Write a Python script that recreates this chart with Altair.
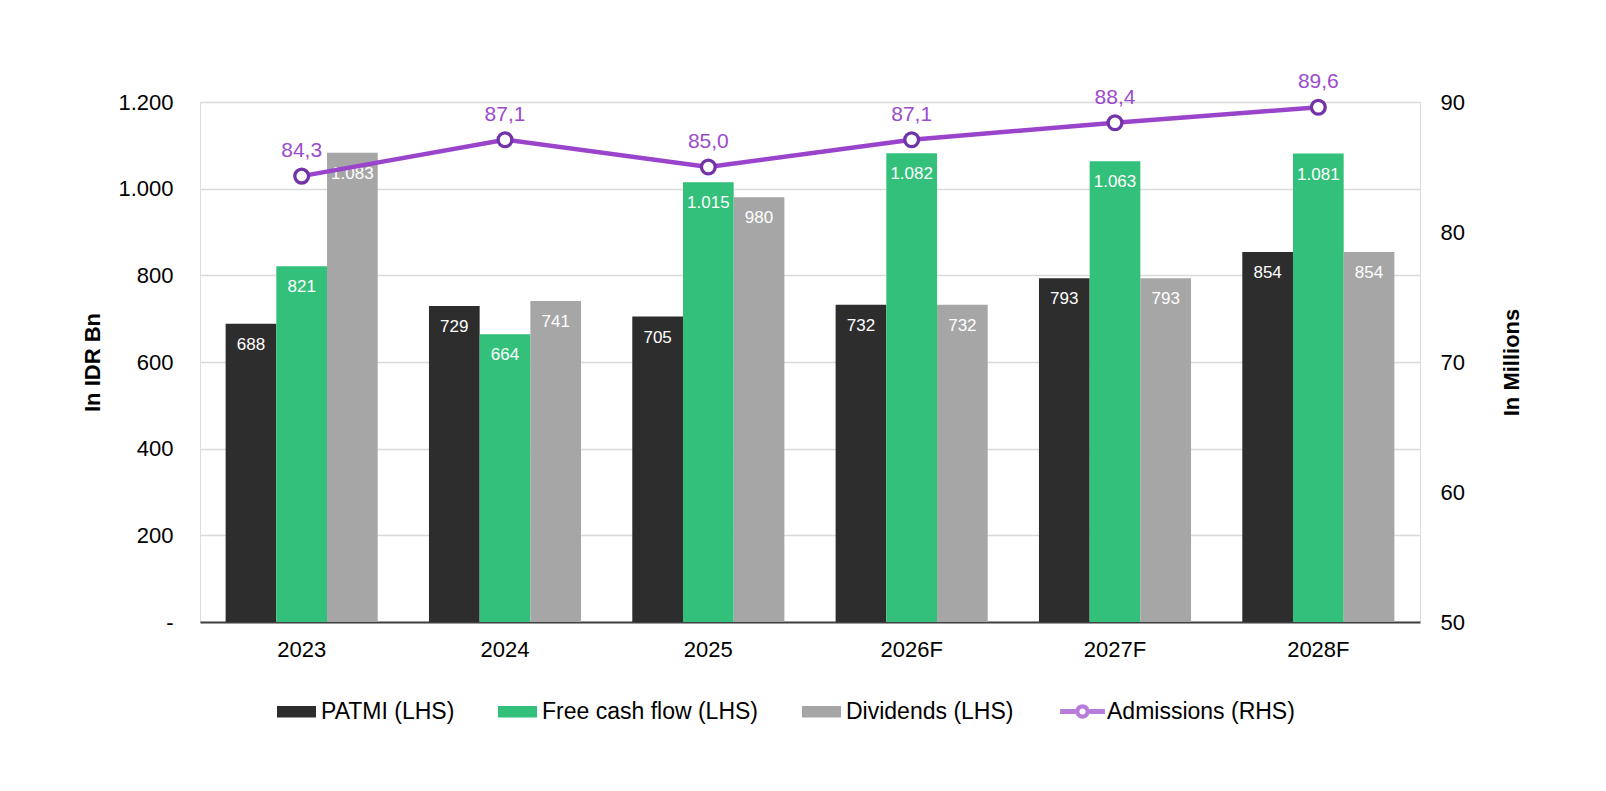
import altair as alt
import pandas as pd

years = ["2023", "2024", "2025", "2026F", "2027F", "2028F"]
patmi = [688, 729, 705, 732, 793, 854]
fcf = [821, 664, 1015, 1082, 1063, 1081]
dividends = [1083, 741, 980, 732, 793, 854]
admissions = [84.3, 87.1, 85.0, 87.1, 88.4, 89.6]

bar_series = ["PATMI (LHS)", "Free cash flow (LHS)", "Dividends (LHS)"]
bar_colors = ["#2d2d2d", "#33c07a", "#a6a6a6"]
line_series = "Admissions (RHS)"
line_color = "#9a44cc"
marker_color = "#7232a8"

FONT = "Liberation Sans"

RECT_PATH = "M-1,-0.29H1V0.29H-1Z"
LINE_PATH = (
    "M-1.15,-0.13H-0.36V0.13H-1.15Z M0.36,-0.13H1.15V0.13H0.36Z "
    "M0.37,0A0.37,0.37 0 1,1 -0.37,0A0.37,0.37 0 1,1 0.37,0Z "
    "M0.16,0A0.16,0.16 0 1,0 -0.16,0A0.16,0.16 0 1,0 0.16,0Z"
)


def thousands(v):
    return f"{v:,}".replace(",", ".")


rows = []
for name, vals in zip(bar_series, [patmi, fcf, dividends]):
    for y, v in zip(years, vals):
        rows.append({"year": y, "series": name, "value": v, "label": thousands(v)})
bars_df = pd.DataFrame(rows)

adm_df = pd.DataFrame({
    "year": years,
    "adm": admissions,
    "label": [f"{a:.1f}".replace(".", ",") for a in admissions],
    "s": [line_series] * len(years),
})

x_enc = alt.X(
    "year:N",
    sort=years,
    scale=alt.Scale(paddingInner=0.252, paddingOuter=0.126),
    axis=alt.Axis(
        title=None, labelAngle=0, ticks=False, tickSize=0, labelPadding=17,
        labelFontSize=22, labelColor="#000000", domainColor="#404040",
        domainWidth=2, grid=False, labelFont=FONT,
    ),
)

y_left = alt.Y(
    "value:Q",
    scale=alt.Scale(domain=[0, 1200], nice=False),
    axis=alt.Axis(
        title="In IDR Bn", values=[0, 200, 400, 600, 800, 1000, 1200],
        labelExpr="datum.value === 0 ? '-' : replace(format(datum.value, ','), ',', '.')",
        labelFontSize=22, labelColor="#000000", labelPadding=27, ticks=False, tickSize=0,
        domain=False, grid=True, gridColor="#d9d9d9", gridWidth=1.5,
        titleFontSize=22, titleFontWeight="bold", titleColor="#000000",
        titlePadding=13, labelFont=FONT, titleFont=FONT,
    ),
)

legend_common = dict(
    title=None, orient="none", direction="horizontal", symbolSize=1521,
    symbolStrokeWidth=0, labelFontSize=23, labelColor="#000000", labelFont=FONT,
    columnPadding=43, labelOffset=5, labelLimit=500, padding=0, legendY=590,
)

color_enc = alt.Color(
    "series:N",
    scale=alt.Scale(domain=bar_series, range=bar_colors),
    sort=bar_series,
    legend=alt.Legend(legendX=77, symbolType=RECT_PATH, **legend_common),
)

bars = alt.Chart(bars_df).mark_bar().encode(
    x=x_enc,
    xOffset=alt.XOffset("series:N", sort=bar_series, scale=alt.Scale(paddingInner=0, paddingOuter=0)),
    y=y_left,
    color=color_enc,
)

bar_text = alt.Chart(bars_df).mark_text(
    baseline="alphabetic", dy=26, color="#ffffff", fontSize=17, font=FONT
).encode(
    x=alt.X("year:N", sort=years),
    xOffset=alt.XOffset("series:N", sort=bar_series),
    y=alt.Y("value:Q"),
    text="label:N",
)

y_right = alt.Y(
    "adm:Q",
    scale=alt.Scale(domain=[50, 90], nice=False),
    axis=alt.Axis(
        orient="right", title="In Millions", values=[50, 60, 70, 80, 90],
        labelFontSize=22, labelColor="#000000", labelPadding=20, ticks=False, tickSize=0,
        domain=False, grid=False, titleFontSize=22, titleFontWeight="bold",
        titleColor="#000000", titleAngle=270, titleBaseline="top", titlePadding=37,
        labelFont=FONT, titleFont=FONT,
    ),
)

line = alt.Chart(adm_df).mark_line(color=line_color, strokeWidth=4.5).encode(
    x=alt.X("year:N", sort=years),
    y=y_right,
)

points = alt.Chart(adm_df).mark_point(
    shape="circle", filled=False, fill="#ffffff", stroke=marker_color,
    strokeWidth=3.3, size=190, opacity=1,
).encode(
    x=alt.X("year:N", sort=years),
    y=alt.Y("adm:Q"),
)

line_text = alt.Chart(adm_df).mark_text(
    baseline="alphabetic", dy=-19, color="#9a4ccc", fontSize=21, font=FONT
).encode(
    x=alt.X("year:N", sort=years),
    y=alt.Y("adm:Q"),
    text="label:N",
)

line_legend = alt.Chart(adm_df).transform_filter("false").mark_point(
    filled=True, color=line_color
).encode(
    shape=alt.Shape(
        "s:N",
        scale=alt.Scale(domain=[line_series], range=[LINE_PATH]),
        legend=alt.Legend(legendX=863, **legend_common),
    ),
)

chart = alt.layer(
    alt.layer(bars, bar_text),
    alt.layer(line, points, line_text, line_legend),
).resolve_scale(y="independent").properties(
    width=1220,
    height=520,
    autosize=alt.AutoSizeParams(type="none"),
    padding={"left": 192, "top": 94, "right": 178, "bottom": 161},
).configure_view(stroke=None).configure(font=FONT)

chart.save("out.html", embed_options={"renderer": "svg", "actions": False})
